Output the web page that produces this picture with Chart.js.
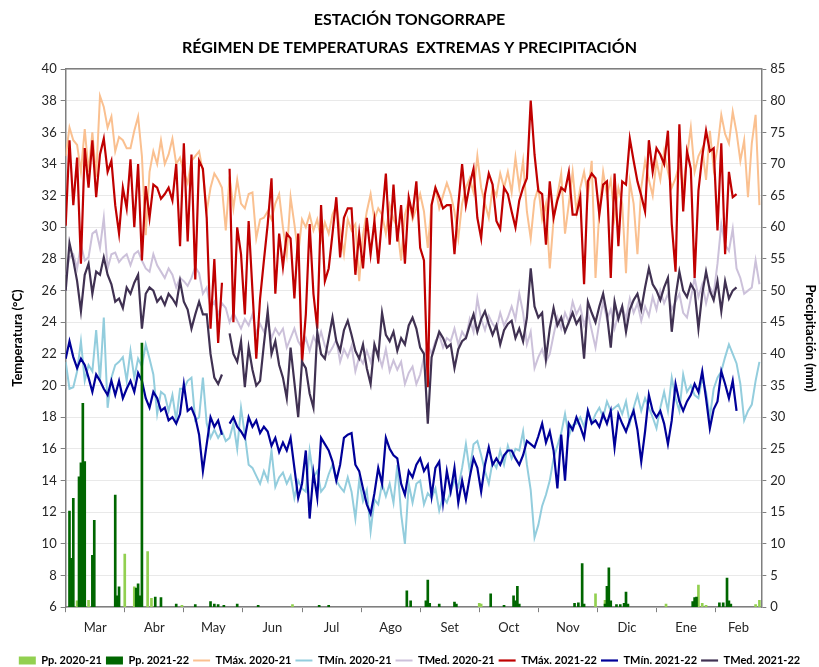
<!DOCTYPE html>
<html>
<head>
<meta charset="utf-8">
<script src="https://cdn.jsdelivr.net/npm/chart.js@4.4.0/dist/chart.umd.min.js"></script>
<style>
html, body { margin: 0; padding: 0; background: #fff; }
</style>
</head>
<body>
<canvas id="grafico" width="819" height="667"></canvas>
<script>
// eje X: días desde el 1 de marzo, marcas cada 31 días
const meses = ["Mar", "Abr", "May", "Jun", "Jul", "Ago", "Set", "Oct", "Nov", "Dic", "Ene", "Feb"];
const marcasDias = [0, 31, 62, 93, 124, 155, 186, 217, 248, 279, 310, 341];
const etiquetasDias = [15.5, 46.5, 77.5, 108.5, 139.5, 170.5, 201.5, 232.5, 263.5, 294.5, 325.5, 353];
const PASO = 2; // un valor cada 2 días

// temperaturas (°C)
const tmax2021 = [
  34.5,36.3,35.5,35.2,33.5,36.2,33.5,36.0,33.2,38.3,37.6,36.3,37.0,34.8,35.7,35.5,
  35.0,35.0,36.1,37.0,34.5,29.5,33.5,34.8,34.0,35.5,34.0,34.6,35.6,34.0,34.4,33.5,
  32.8,34.2,34.5,34.8,33.5,31.0,32.5,33.4,33.0,32.5,29.8,33.2,31.2,33.0,31.5,
  31.2,32.1,32.2,29.3,30.5,30.6,31.0,30.5,31.5,32.1,30.0,28.3,31.9,30.2,28.3,30.5,
  30.0,30.8,29.8,30.5,29.2,30.3,29.6,30.8,31.4,29.8,28.3,30.5,29.8,30.2,26.6,
  29.5,31.0,32.1,30.5,31.2,30.8,29.6,31.4,30.5,30.0,27.9,30.8,31.7,30.5,31.2,32.1,
  31.0,28.7,31.5,32.5,31.2,32.0,32.8,32.1,31.0,29.3,31.5,32.5,33.1,32.2,34.5,32.5,
  31.5,30.6,32.5,32.0,33.4,32.5,33.5,32.2,34.4,32.5,34.2,31.0,29.3,31.7,32.5,
  30.5,31.5,27.4,30.5,32.0,33.4,29.6,31.5,33.5,31.0,32.5,33.5,32.0,34.2,26.8,31.0,
  33.5,32.0,33.0,30.6,32.5,31.5,27.1,32.9,31.5,28.3,32.5,34.2,33.0,32.0,34.2,
  33.0,34.8,33.5,32.5,33.1,34.0,32.5,34.5,36.3,33.5,34.5,35.0,33.0,36.1,33.7,35.0,
  37.1,35.9,35.3,37.3,36.0,34.2,35.5,31.9,35.3,37.1,31.4
];
const tmin2021 = [
  21.5,19.8,19.9,20.9,22.8,20.3,21.3,20.9,23.5,20.3,24.3,18.6,20.5,21.3,21.5,21.8,
  20.3,22.2,20.5,21.7,21.2,22.6,21.7,20.7,18.2,19.6,19.4,18.4,19.4,17.8,19.8,19.8,
  20.3,20.5,17.8,18.0,20.5,17.6,16.7,17.2,16.7,17.1,16.5,16.7,17.6,16.0,18.6,
  16.9,15.0,14.8,14.3,13.8,14.6,14.0,15.9,13.6,14.2,14.5,13.8,14.3,12.9,14.0,13.5,
  13.3,15.9,14.2,14.6,13.3,13.6,14.4,15.0,14.0,13.6,13.3,14.2,13.3,11.6,14.0,
  12.7,13.4,10.8,12.8,12.5,13.8,13.0,13.8,12.6,15.0,11.9,10.0,13.8,12.6,13.8,14.0,
  12.5,13.2,12.9,13.5,12.1,13.0,12.6,13.3,14.0,13.6,14.8,16.3,14.6,16.3,16.5,15.6,
  14.6,13.8,15.2,14.8,15.9,15.0,16.2,15.4,16.0,15.9,17.1,15.0,13.4,10.4,11.2,
  12.4,13.1,14.0,15.4,16.2,17.0,18.2,16.8,17.5,17.6,18.0,17.4,18.4,17.6,18.2,18.6,
  18.0,19.0,18.4,18.6,18.8,18.2,19.0,17.6,18.6,19.4,18.4,19.2,18.6,18.0,17.3,
  18.6,19.6,18.4,20.5,19.2,18.4,20.7,19.6,20.0,19.4,19.2,20.5,19.6,18.0,19.8,20.5,
  20.9,21.8,22.6,22.0,21.4,20.1,17.8,18.4,18.8,20.3,21.5
];
const tmed2021 = [
  27.0,28.1,28.3,27.4,28.9,27.9,28.1,29.6,29.8,28.7,30.6,27.4,28.3,28.4,27.8,28.1,
  28.3,27.6,28.3,28.5,27.9,27.4,27.2,28.3,27.6,27.2,26.8,27.4,27.0,26.2,26.8,26.6,
  26.3,26.8,27.5,27.1,25.8,26.2,24.9,25.3,24.5,25.2,24.9,24.0,24.6,24.1,23.6,
  24.2,23.8,24.5,23.3,23.9,23.4,23.9,23.0,23.6,23.2,23.6,22.4,23.0,23.6,22.8,22.4,
  23.0,22.2,23.1,22.6,23.4,22.5,22.0,22.4,22.9,21.5,22.3,21.8,22.5,20.9,21.8,
  21.4,22.2,21.5,22.5,22.0,21.2,22.3,20.9,21.6,21.0,21.5,20.1,20.8,21.2,20.1,20.7,
  21.8,22.6,22.0,22.8,23.2,22.4,23.0,22.8,23.6,22.6,23.4,23.0,24.2,23.4,25.5,24.2,
  23.5,24.4,23.9,23.6,24.6,23.8,24.3,25.0,24.2,25.8,24.6,22.6,23.4,21.1,21.8,
  22.3,21.5,22.0,23.2,24.3,23.6,24.6,24.0,25.3,24.5,25.0,23.8,24.6,23.5,22.4,24.0,
  25.3,24.2,24.8,23.6,24.5,25.0,24.2,25.5,24.6,25.2,24.1,25.0,24.4,25.6,24.8,
  26.0,25.2,25.8,24.8,25.3,25.8,24.6,24.3,25.5,26.8,25.6,26.4,25.2,26.2,25.8,27.7,
  30.2,28.9,28.5,29.9,27.4,26.8,25.8,26.0,26.2,27.9,26.4
];
const tmax2122 = [
  30.1,35.5,31.4,34.4,27.7,35.0,32.5,35.5,31.9,34.6,35.6,33.5,34.2,31.4,29.6,32.5,
  31.2,34.3,30.0,34.0,27.9,32.6,30.6,32.7,32.5,31.8,32.1,32.5,31.7,34.0,28.8,35.3,
  29.1,34.6,26.7,34.2,33.7,30.6,23.6,28.0,22.7,26.5,null,33.7,24.0,30.0,28.3,
  24.5,30.4,26.0,21.7,25.5,27.9,30.2,33.1,25.8,29.6,27.5,29.6,29.3,25.5,29.6,21.4,
  24.5,30.2,25.8,23.6,31.4,26.6,27.4,29.6,31.9,28.1,30.6,31.2,31.2,27.0,29.6,
  27.4,30.6,28.3,30.4,27.7,30.6,33.4,28.9,32.7,29.1,31.4,27.7,31.9,30.8,32.9,28.7,
  27.9,19.9,31.4,32.5,31.9,31.2,31.4,31.4,28.3,31.4,34.0,31.4,32.7,33.7,30.6,29.3,
  32.1,33.4,32.7,30.4,29.9,32.5,32.1,31.0,30.0,31.7,32.5,33.1,38.0,34.6,32.3,
  32.1,28.9,32.9,30.6,31.7,32.5,32.3,33.5,30.8,30.8,31.9,26.4,32.9,33.4,33.1,30.8,
  32.7,32.9,26.8,33.4,28.8,32.9,32.7,35.6,34.2,32.9,32.0,31.0,35.5,33.5,35.0,
  34.6,34.0,36.1,30.2,27.2,36.5,31.0,34.8,33.7,26.8,32.3,34.5,36.1,34.8,35.0,29.8,
  35.3,28.3,33.5,31.9,32.1
];
const tmin2122 = [
  21.7,22.8,21.8,21.1,21.7,21.3,20.5,19.6,20.7,20.3,19.8,19.4,20.3,19.4,20.3,19.2,
  19.8,20.3,19.6,20.8,20.3,19.2,18.6,19.6,19.2,18.4,18.6,17.8,18.0,17.6,18.2,20.1,
  18.4,18.6,18.0,16.9,14.6,16.3,18.0,17.4,17.8,16.9,null,17.6,18.0,17.4,17.1,
  16.7,18.0,17.4,17.8,17.0,17.4,17.1,16.2,16.7,15.8,16.4,15.9,16.7,14.8,12.9,13.8,
  15.9,11.6,14.5,12.9,16.7,16.3,15.9,15.2,14.0,15.0,16.7,16.9,17.0,15.0,14.6,
  13.5,12.5,11.9,13.2,14.8,13.8,16.7,16.0,15.6,15.4,13.8,13.1,14.6,14.2,15.0,15.4,
  14.6,15.0,13.0,14.8,15.2,12.6,14.6,13.3,14.8,12.6,14.0,12.8,14.2,15.4,14.8,13.3,
  15.0,16.1,15.0,15.4,15.0,15.6,15.9,15.9,15.4,15.0,15.6,16.5,16.3,16.1,16.8,
  17.6,16.4,17.1,15.9,13.5,16.9,14.0,17.6,17.2,18.0,17.4,16.7,18.4,17.6,17.8,17.4,
  18.2,17.6,18.4,16.1,18.2,17.6,17.1,17.8,18.4,17.2,15.2,17.1,19.4,18.4,18.0,
  18.4,17.6,16.3,17.8,20.1,19.0,18.4,19.0,19.4,20.1,19.6,20.9,19.2,17.3,18.5,19.0,
  20.9,20.1,19.2,20.3,18.4
];
const tmed2122 = [
  26.0,29.0,27.9,26.6,24.7,27.0,27.7,25.8,27.2,27.0,28.1,27.0,26.4,25.3,25.5,24.9,
  26.2,25.8,26.5,27.0,23.6,25.8,26.2,26.0,25.3,25.6,25.1,25.8,25.5,25.1,26.6,25.3,
  24.8,23.6,24.5,25.3,24.5,24.5,22.0,20.5,20.1,20.7,null,23.3,22.0,21.5,22.8,
  19.9,22.4,21.0,20.0,20.3,22.6,24.7,22.0,22.8,21.3,20.5,19.2,22.4,20.2,18.0,21.5,
  21.1,19.5,18.6,23.4,22.0,21.7,23.0,24.3,22.8,22.2,23.5,24.1,23.2,22.2,21.7,
  22.6,21.1,20.1,22.6,21.8,24.6,23.2,22.8,23.4,22.2,23.0,22.6,23.8,24.3,23.6,22.4,
  22.0,17.6,21.8,22.6,23.4,23.0,22.4,22.6,21.1,22.3,22.8,23.0,23.8,24.5,23.4,24.2,
  24.7,23.9,23.2,23.8,22.6,23.5,23.9,24.1,23.0,23.6,22.8,24.3,27.4,25.0,24.3,
  24.6,21.7,23.6,24.9,23.8,24.3,23.4,24.0,24.6,23.9,24.3,21.7,25.3,24.6,24.0,25.0,
  25.8,24.5,22.4,25.3,24.2,25.0,23.4,24.8,25.4,25.8,24.8,26.2,27.4,26.4,26.0,
  25.4,26.2,26.8,23.4,25.6,27.2,26.0,25.6,26.4,26.0,23.6,25.8,27.2,26.0,25.4,26.6,
  24.7,26.6,25.5,26.0,26.2
];

// precipitación (mm): [día, valor]
const pp2021 = [
  [6,1.0],[12,1.1],[31,8.4],[36,3.2],[43,8.8],[45,1.4],[61,0.3],[119,0.4],
  [217,0.6],[218,0.5],[278,2.1],[283,1.1],[295,0.3],[315,0.5],[332,3.5],[334,0.6],
  [336,0.3],[362,0.4],[364,1.1]
];
const pp2122 = [
  [2,15.2],[3,7.7],[4,17.2],[7,20.6],[8,22.8],[9,32.2],[10,23.0],[14,8.2],[15,13.7],
  [26,17.7],[27,1.8],[28,3.2],[37,3.0],[38,3.7],[39,1.8],[40,41.7],[47,1.6],[50,1.5],
  [58,0.5],[68,0.4],[76,0.9],[78,0.5],[80,0.4],[83,0.3],[90,0.5],[101,0.3],[133,0.3],
  [138,0.3],[179,2.6],[181,1.0],[189,1.0],[190,4.3],[191,0.6],[196,0.5],[204,0.8],
  [205,0.5],[223,2.1],[230,0.3],[235,1.8],[236,1.0],[237,3.3],[238,0.5],[267,0.6],
  [269,0.7],[271,6.9],[272,0.5],[283,0.5],[284,3.3],[285,6.2],[286,1.0],[289,0.4],
  [291,0.4],[293,0.6],[294,2.4],[295,0.5],[329,0.9],[330,1.5],[331,1.6],[343,0.7],
  [345,0.7],[347,4.6],[348,1.0],[349,0.5]
];

function serie(vals) {
  return vals.map((v, i) => ({x: i * PASO, y: v}));
}
function barras(pares) {
  return pares.map(p => ({x: p[0], y: p[1]}));
}

Chart.defaults.font.family = "Lato, 'Open Sans', sans-serif";
Chart.defaults.color = "#262626";

function linea(label, vals, color, ancho, orden) {
  return {
    type: "line", label: label, data: serie(vals),
    borderColor: color, backgroundColor: color, borderWidth: ancho,
    pointRadius: 0, pointStyle: "line", tension: 0, spanGaps: false,
    xAxisID: "x", yAxisID: "y", order: orden
  };
}
function columnas(label, pares, color, orden) {
  return {
    type: "bar", label: label, data: barras(pares),
    backgroundColor: color, borderWidth: 0, barThickness: 2, grouped: false,
    pointStyle: "rect", xAxisID: "x", yAxisID: "y2", order: orden
  };
}

const ejeGris = "#7f7f7f";

new Chart(document.getElementById("grafico"), {
  type: "line",
  data: {
    datasets: [
      columnas("Pp. 2020-21", pp2021, "#92D050", 2),
      columnas("Pp. 2021-22", pp2122, "#006600", 1),
      linea("TMáx. 2020-21", tmax2021, "#FAC090", 2, 8),
      linea("TMín. 2020-21", tmin2021, "#93CDDD", 2, 7),
      linea("TMed. 2020-21", tmed2021, "#CCC1DA", 2, 6),
      linea("TMáx. 2021-22", tmax2122, "#C00000", 2.2, 5),
      linea("TMín. 2021-22", tmin2122, "#000099", 2.2, 4),
      linea("TMed. 2021-22", tmed2122, "#403152", 2.2, 3)
    ]
  },
  options: {
    responsive: false,
    animation: false,
    layout: {padding: {left: 0, right: 0, top: 0, bottom: -9}},
    plugins: {
      title: {
        display: true,
        text: ["ESTACIÓN TONGORRAPE", "RÉGIMEN DE TEMPERATURAS  EXTREMAS Y PRECIPITACIÓN"],
        color: "#000", font: {size: 16, weight: "bold", lineHeight: 1.75},
        padding: {top: 6, bottom: 7}
      },
      legend: {
        position: "bottom",
        labels: {
          usePointStyle: true, pointStyleWidth: 17, boxHeight: 8,
          color: "#000", font: {size: 11, weight: "bold"}, padding: 4,
          sort: (a, b) => a.datasetIndex - b.datasetIndex
        }
      },
      tooltip: {enabled: false}
    },
    scales: {
      x: {
        type: "linear", position: "bottom", min: 0, max: 365, offset: false,
        afterBuildTicks: s => { s.ticks = marcasDias.map(v => ({value: v})); },
        ticks: {display: false},
        grid: {offset: false, drawOnChartArea: false, drawTicks: true, tickLength: 5, tickColor: ejeGris},
        border: {color: ejeGris, width: 1.5}
      },
      xm: {
        type: "linear", position: "bottom", min: 0, max: 365, offset: false,
        afterBuildTicks: s => { s.ticks = etiquetasDias.map(v => ({value: v})); },
        ticks: {
          autoSkip: false, maxRotation: 0, padding: 8, font: {size: 13},
          callback: (v, i) => meses[i]
        },
        // título vacío: solo deja aire entre los meses y la leyenda
        title: {display: true, text: " ", font: {size: 1}, padding: {top: 0, bottom: 6}},
        grid: {display: false, drawTicks: false, offset: false},
        border: {display: false}
      },
      xTop: {
        type: "linear", position: "top", min: 0, max: 365, offset: false,
        ticks: {display: false},
        grid: {display: false, drawTicks: false, offset: false},
        border: {color: ejeGris, width: 1.5}
      },
      y: {
        type: "linear", position: "left", min: 6, max: 40,
        ticks: {stepSize: 2, font: {size: 13}, padding: 4},
        grid: {color: "#e9e9e9", tickColor: ejeGris, tickLength: 5},
        border: {color: ejeGris, width: 1.5},
        title: {display: true, text: "Temperatura (°C)", color: "#000",
          font: {size: 13, weight: "bold"}, padding: {top: 10, bottom: 12}}
      },
      y2: {
        type: "linear", position: "right", min: 0, max: 85,
        ticks: {stepSize: 5, font: {size: 13}, padding: 4},
        grid: {drawOnChartArea: false, tickColor: ejeGris, tickLength: 5},
        border: {color: ejeGris, width: 1.5},
        title: {display: true, text: "Precipitación (mm)", color: "#000",
          font: {size: 13, weight: "bold"}, padding: {top: 1, bottom: 13}}
      }
    }
  }
});
</script>
</body>
</html>
